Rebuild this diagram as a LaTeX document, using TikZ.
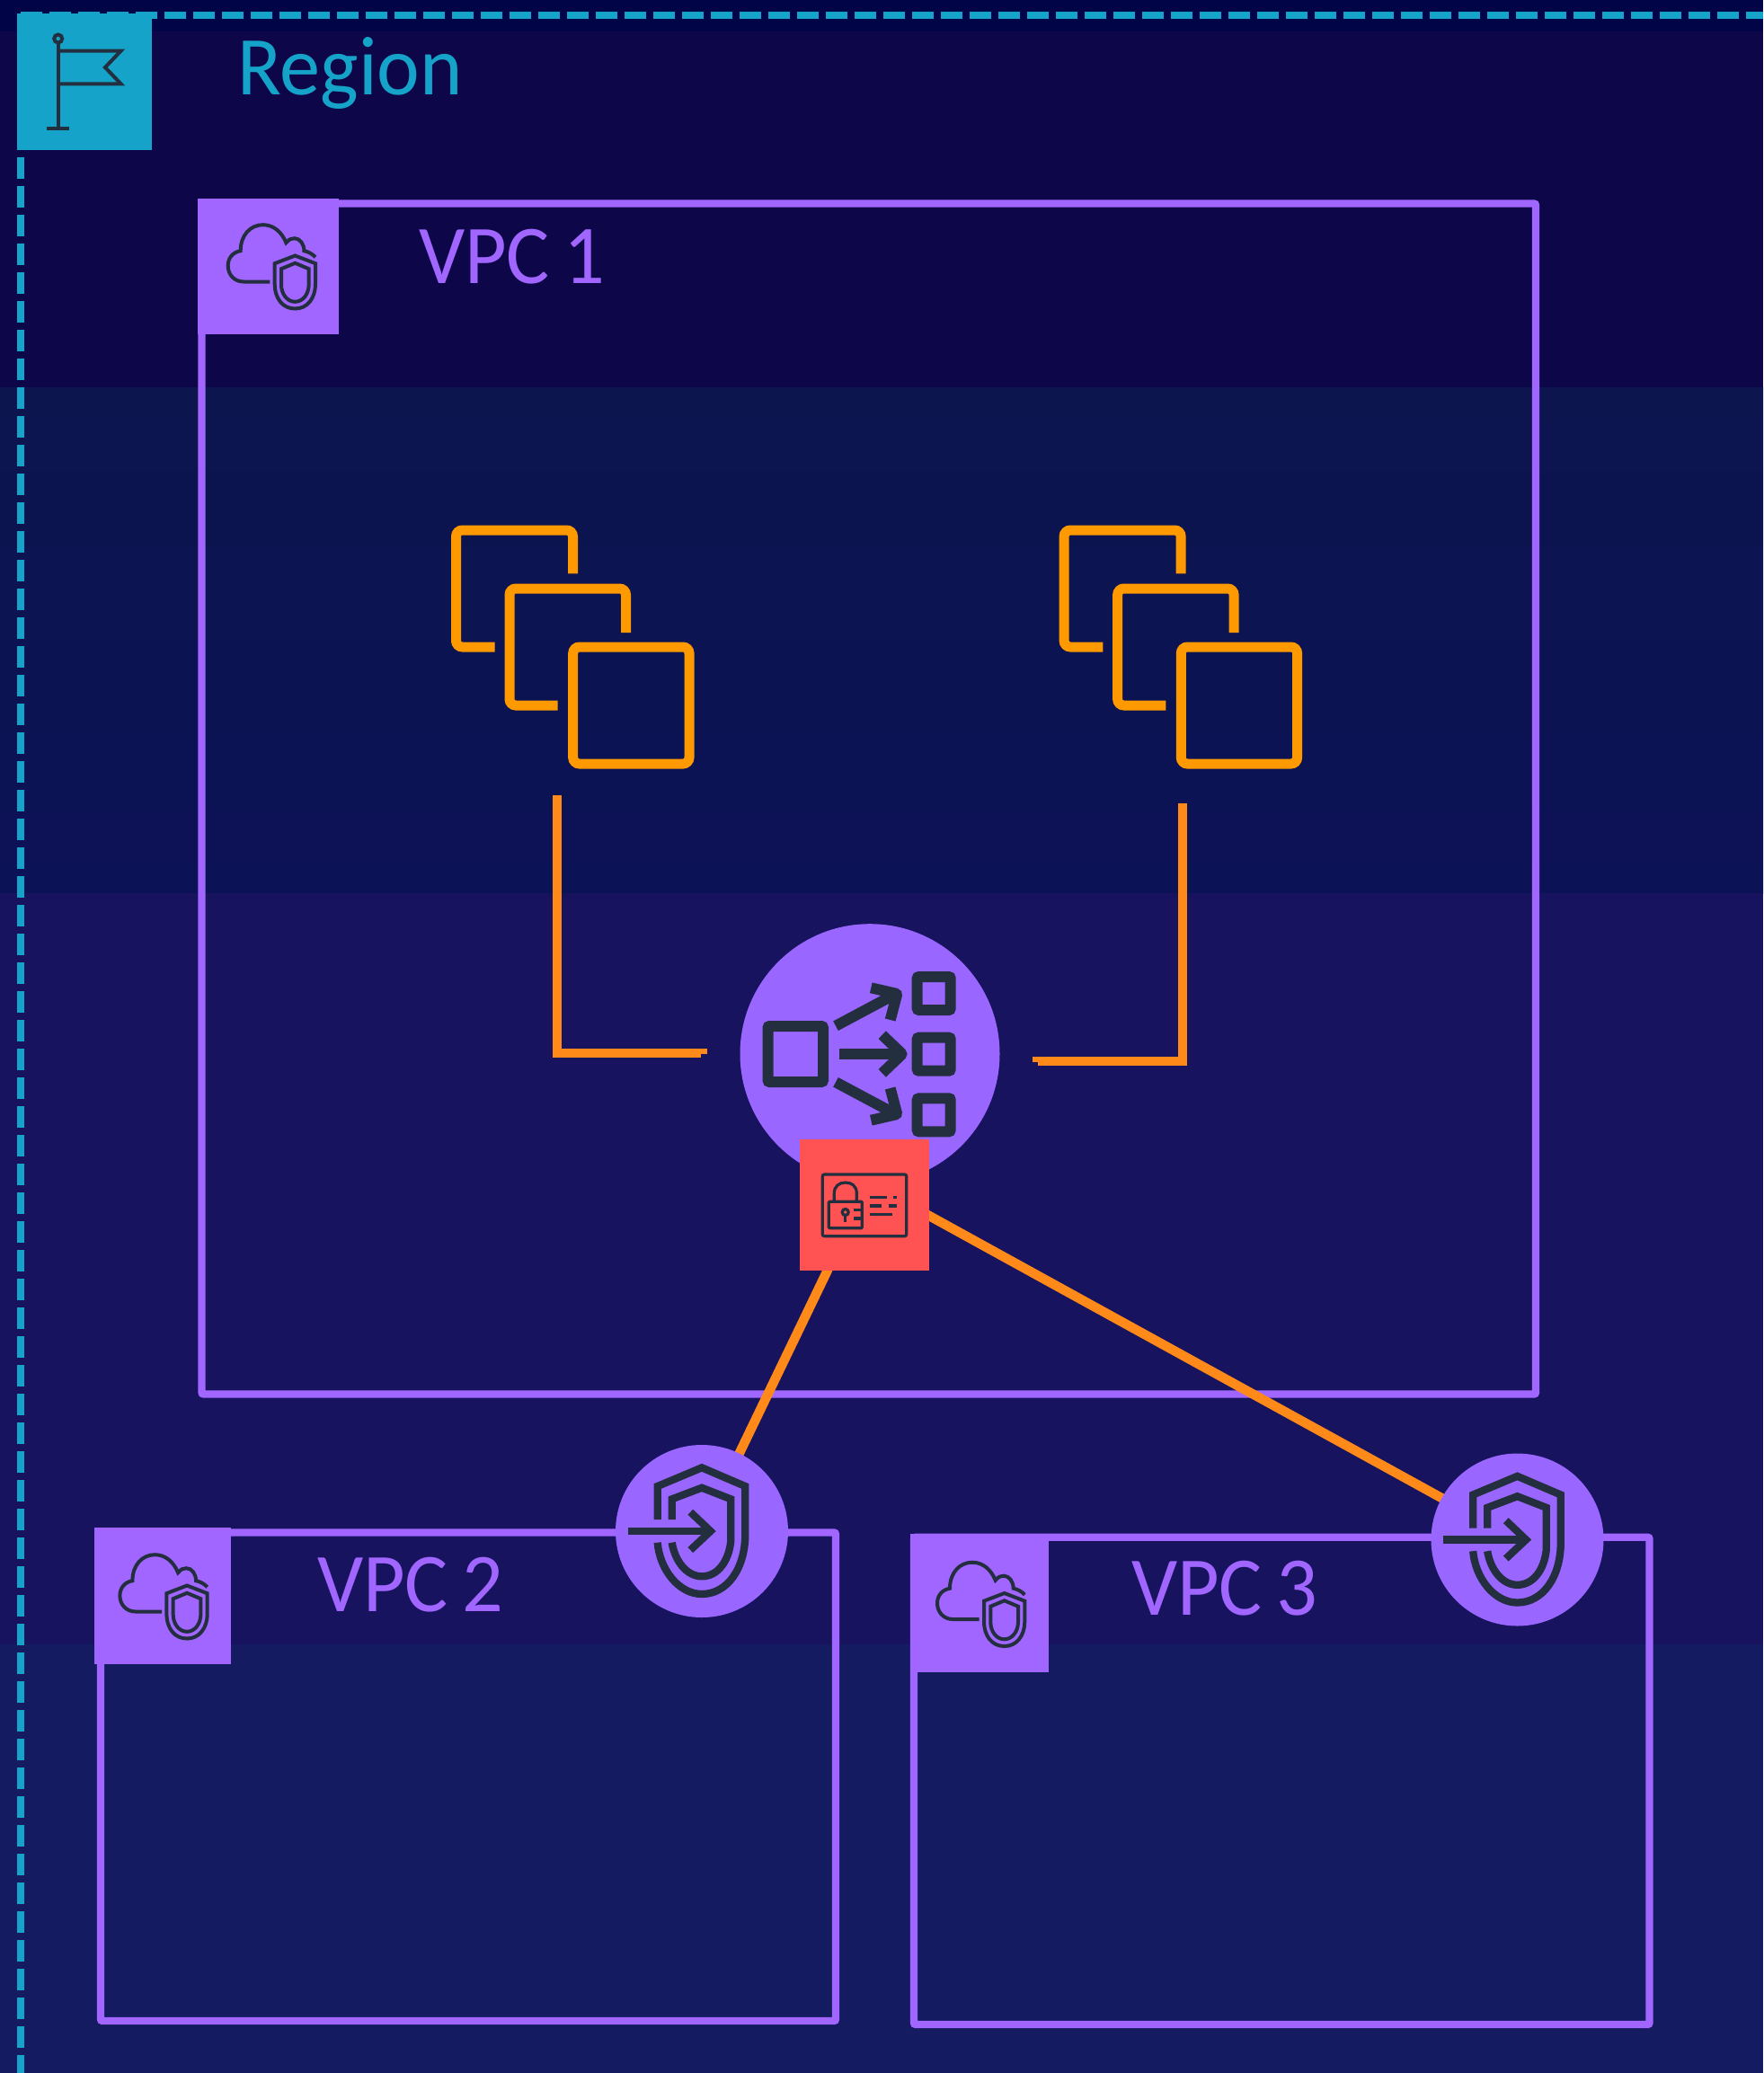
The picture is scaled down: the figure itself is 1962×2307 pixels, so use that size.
\documentclass[tikz,border=0pt]{standalone}
\usepackage{fontspec}
\setmainfont{Carlito}
\usetikzlibrary{backgrounds}
\definecolor{bandtop}{RGB}{1, 5, 72}
\definecolor{bandone}{RGB}{13, 6, 73}
\definecolor{bandtwoa}{RGB}{12, 21, 78}
\definecolor{bandtwob}{RGB}{12, 18, 86}
\definecolor{bandthree}{RGB}{23, 19, 94}
\definecolor{bandfour}{RGB}{20, 27, 96}
\definecolor{regionblue}{RGB}{22, 163, 201}
\definecolor{vpcpurple}{RGB}{161, 102, 255}
\definecolor{lbpurple}{RGB}{153, 102, 255}
\definecolor{certred}{RGB}{255, 82, 82}
\definecolor{groupamber}{RGB}{255, 153, 0}
\definecolor{linkorange}{RGB}{255, 138, 26}
\definecolor{inkdark}{RGB}{35, 47, 62}
\tikzset{
    vpcbox/.style={draw=vpcpurple, line width=8.3pt, rounded corners=2pt},
    vpctag/.style={fill=vpcpurple, inner sep=0pt, minimum width=#1, minimum height=#1},
    title/.style={font=\fontsize{93}{93}\selectfont, anchor=base west, inner sep=0pt, xscale=0.97, transform shape},
    gwdisc/.style={circle, fill=lbpurple, inner sep=0pt, minimum size=192pt},
    link/.style={draw=linkorange, line width=10.5pt},
    group/.style={draw=groupamber, line width=11pt, rounded corners=7pt},
    thinink/.style={draw=inkdark, line width=4pt},
    certink/.style={draw=inkdark, line width=3.2pt},
    lbink/.style={draw=inkdark, line width=12pt, rounded corners=2pt},
    gwink/.style={draw=inkdark, line width=8.3pt}
}
% cloud with shield, #1 #2 = top left of the tag
\newcommand{\vpcglyph}[2]{
    \begin{scope}[shift={(#1,#2)}]
        \draw[thinink] (76.7,95) -- (47.3,95) .. controls (37,95) and (30,87) .. (30,77.3) .. controls (30,68) and (36,62) .. (44,60.7) .. controls (44,43) and (55,31.7) .. (69,31.7) .. controls (81,31.7) and (90,40) .. (94.7,51.7) .. controls (98,47.5) and (101,46.7) .. (104,46.7) .. controls (110,46.7) and (114.7,53) .. (114.7,60.7) .. controls (119,61.5) and (124,64) .. (127.3,67.7);
        \draw[thinink] (104.7,66) -- (127.3,74.7) -- (127.3,97) .. controls (127.3,114) and (118,125) .. (104.7,125) .. controls (91,125) and (82,114) .. (82,97) -- (82,74.7) -- cycle;
        \draw[thinink] (104.7,74.3) -- (120,80.7) -- (120,98) .. controls (120,109) and (113,117.3) .. (104.7,117.3) .. controls (96,117.3) and (89.3,109) .. (89.3,98) -- (89.3,80.7) -- cycle;
    \end{scope}
}
% shield with arrow, #1 = name of the disc
\newcommand{\gwglyph}[1]{
    \begin{scope}[shift={(#1.center)}]
        \draw[gwink] (-49.3,-13) -- (-49.3,-50) -- (0,-70.7) -- (48.3,-50) -- (48.3,3) .. controls (48.3,42) and (28,70) .. (0,70) .. controls (-26,70) and (-47,42) .. (-49.3,12.7);
        \draw[gwink] (-33.3,-13) -- (-33.3,-35.7) -- (0,-48.3) -- (32.3,-35.7) -- (32.3,11) .. controls (30,33) and (18,50.3) .. (0,50.3) .. controls (-17,50.3) and (-30,33) .. (-33.3,12.7);
        \draw[gwink] (-82.3,0) -- (9.7,0);
        \draw[gwink] (-12.7,-21.3) -- (9.7,0) -- (-12.7,21);
    \end{scope}
}
\begin{document}
\begin{tikzpicture}[x=1pt, y=-1pt]
    \useasboundingbox (0,0) rectangle (1962,2307);

    % nodes of the picture
    \node[fill=regionblue, inner sep=0pt, minimum width=150pt, minimum height=152pt] (regiontag) at (94,91) {};
    \node[title, text=regionblue] (regiontext) at (264,105) {Region};
    \node[vpctag=154pt, minimum width=157.5pt, minimum height=151pt] (tagone) at (298.7,296.5) {};
    \node[title, text=vpcpurple] (textone) at (466,315) {VPC\hspace{0.17em}1};
    \node[vpctag=151.7pt] (tagtwo) at (181.3,1775.8) {};
    \node[title, text=vpcpurple] (texttwo) at (353,1793) {VPC\hspace{0.17em}2};
    \node[vpctag=154pt] (tagthree) at (1090,1784) {};
    \node[title, text=vpcpurple] (textthree) at (1259,1797) {VPC\hspace{0.17em}3};
    \node[gwdisc, minimum size=289pt] (lb) at (968,1172.7) {};
    \node[fill=certred, inner sep=0pt, minimum width=144.3pt, minimum height=145.7pt] (cert) at (961.8,1341.2) {};
    \node[gwdisc] (gwtwo) at (781,1704) {};
    \node[gwdisc] (gwthree) at (1688.5,1713.5) {};

    % loose ends of the elbows
    \coordinate (groupleft) at (620,885);
    \coordinate (lbleft) at (780,1172.2);
    \coordinate (stubleft) at (786.7,1170.2);
    \coordinate (groupright) at (1316,894);
    \coordinate (lbright) at (1155.3,1181);
    \coordinate (stubright) at (1149.3,1178.9);

    \begin{scope}[on background layer]
        % bands behind everything
        \fill[bandtop] (0,0) rectangle (1962,35);
        \fill[bandone] (0,35) rectangle (1962,431);
        \shade[top color=bandtwoa, bottom color=bandtwob] (0,431) rectangle (1962,994);
        \fill[bandthree] (0,994) rectangle (1962,1830);
        \fill[bandfour] (0,1830) rectangle (1962,2307);
        % region border, only two sides are on the page
        \draw[regionblue, line width=8pt, dash pattern=on 24pt off 8pt] (23,17) -- (1962,17);
        \draw[regionblue, line width=8pt, dash pattern=on 24pt off 8pt] (23,15) -- (23,2307);
        % vpc boxes
        \draw[vpcbox] (224.5,226.5) rectangle (1709,1551.5);
        \draw[vpcbox] (112,1705.5) rectangle (930,2249);
        \draw[vpcbox] (1017,1710.7) rectangle (1835.5,2253);
        % links between the nodes
        \draw[link] ([xshift=-6pt]cert.center) -- (gwtwo.center);
        \draw[link] ([yshift=28pt]cert.center) -- (gwthree.center);
        \draw[link] (groupleft) |- (lbleft);
        \draw[link, line width=6.3pt] (lbleft |- stubleft) -- (stubleft);
        \draw[link] (groupright) |- (lbright);
        \draw[link, line width=6.3pt] (lbright |- stubright) -- (stubright);
    \end{scope}

    % instance groups, second one is the first moved right
    \foreach \dx in {0,676.6} {
        \begin{scope}[xshift=\dx pt]
            \draw[group] (637.5,638.3) -- (637.5,590) -- (507.5,590) -- (507.5,720) -- (550.7,720);
            \draw[group] (696.5,704) -- (696.5,655) -- (567,655) -- (567,785) -- (620.7,785);
            \draw[group] (637.7,720) rectangle (767,850);
        \end{scope}
    }

    % flag on the region tag
    \draw[inkdark, line width=4pt] (64.7,43) circle (4.5);
    \draw[inkdark, line width=4pt] (64.7,48) -- (64.7,142.7);
    \draw[inkdark, line width=4pt] (52,142.7) -- (77,142.7);
    \draw[inkdark, line width=4pt] (64.7,56.7) -- (134.5,56.7) -- (117,75) -- (134.5,93.3) -- (64.7,93.3);

    % glyphs on the vpc tags
    \vpcglyph{223.7}{218.5}
    \vpcglyph{103.4}{1698.5}
    \vpcglyph{1013}{1707}

    % load balancer glyph
    \draw[lbink] (854.5,1142) rectangle (916,1204);
    \foreach \sy in {1087,1154.7,1222.3} {
        \draw[lbink] (1020.7,\sy) rectangle (1057.7,\sy+37);
    }
    \draw[lbink, rounded corners=0pt] (934.3,1173) -- (1000,1173);
    \draw[lbink] (981.7,1151.7) -- (1004,1173) -- (981.7,1194.3);
    \draw[lbink, rounded corners=0pt] (930,1141.7) -- (995,1107);
    \draw[lbink] (969.3,1099.3) -- (998.3,1106) -- (990.7,1135);
    \draw[lbink, rounded corners=0pt] (930,1204.3) -- (995,1239);
    \draw[lbink] (969.3,1246.7) -- (998.3,1240) -- (990.7,1211);

    % certificate glyph
    \draw[certink, rounded corners=2pt] (915.3,1307) rectangle (1008.7,1375.7);
    \draw[certink, rounded corners=1pt] (922.3,1337.3) rectangle (959.3,1366.7);
    \draw[certink] (928.3,1337.3) -- (928.3,1328) .. controls (928.3,1320) and (934,1316) .. (940.8,1316) .. controls (948,1316) and (953.3,1320) .. (953.3,1328) -- (953.3,1337.3);
    \draw[certink] (940.7,1349) circle (3.5);
    \draw[certink] (940.7,1352) -- (940.7,1359.5);
    \draw[certink] (950,1346.7) -- (959,1346.7);
    \draw[certink] (950,1356) -- (959,1356);
    \draw[certink] (967.7,1332.3) -- (986.7,1332.3);
    \draw[certink] (994.3,1332.3) -- (998.3,1332.3);
    \draw[certink] (967.7,1342) -- (981,1342);
    \draw[certink] (989.3,1342) -- (998.3,1342);
    \draw[certink] (967.7,1351.7) -- (992.7,1351.7);

    % gateway glyphs
    \gwglyph{gwtwo}
    \gwglyph{gwthree}
\end{tikzpicture}
\end{document}
